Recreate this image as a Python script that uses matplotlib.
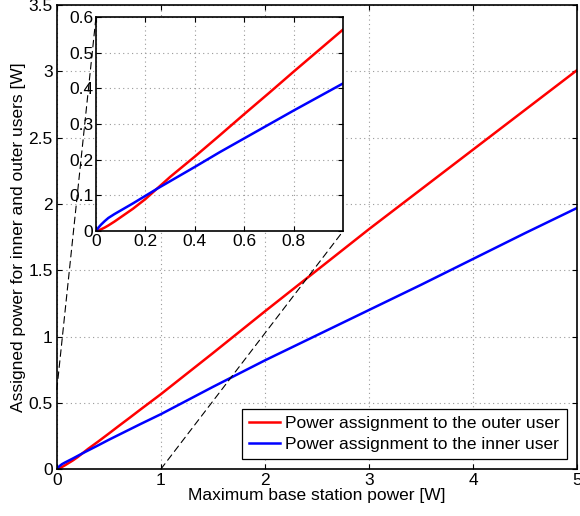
import matplotlib.pyplot as plt
from matplotlib.patches import ConnectionPatch

plt.rcParams['font.family'] = ['Liberation Sans', 'DejaVu Sans']

# values
p_max = [0, 0.01, 0.02, 0.035, 0.05, 0.075, 0.1, 0.125, 0.15, 0.2, 0.25, 0.3, 0.4, 0.5,
         0.6, 0.7, 0.8, 0.9, 1.0, 1.5, 2.0, 2.5, 3.0, 3.5, 4.0, 4.5, 5.0]
p_outer = [0, 0.002, 0.005, 0.01, 0.016, 0.027, 0.039, 0.051, 0.063, 0.09, 0.121, 0.152,
           0.209, 0.268, 0.328, 0.387, 0.447, 0.506, 0.565, 0.875, 1.19, 1.5, 1.81, 2.11,
           2.41, 2.71, 3.01]
p_inner = [0, 0.01, 0.018, 0.028, 0.037, 0.048, 0.058, 0.068, 0.078, 0.099, 0.12, 0.14,
           0.18, 0.221, 0.26, 0.299, 0.338, 0.376, 0.414, 0.62, 0.82, 1.01, 1.2, 1.39,
           1.585, 1.78, 1.97]

fig = plt.figure(figsize=(5.8, 5.16), dpi=100)
ax = fig.add_axes([0.098, 0.091, 0.897, 0.899])

ax.plot(p_max, p_outer, color='red', lw=1.8, label='Power assignment to the outer user')
ax.plot(p_max, p_inner, color='blue', lw=1.8, label='Power assignment to the inner user')
ax.set_xlim(0, 5)
ax.set_ylim(0, 3.5)
ax.set_xticks([0, 1, 2, 3, 4, 5])
ax.set_yticks([0, 0.5, 1, 1.5, 2, 2.5, 3, 3.5])
ax.set_yticklabels(['0', '0.5', '1', '1.5', '2', '2.5', '3', '3.5'])
ax.grid(True, linestyle=(0, (1, 3)), color='#999999', lw=0.8)
ax.tick_params(direction='in', top=True, right=True, labelsize=12.5, pad=3)
for s in ax.spines.values():
    s.set_linewidth(1.2)
ax.set_xlabel('Maximum base station power [W]', fontsize=12.5, labelpad=0)
ax.set_ylabel('Assigned power for inner and outer users [W]', fontsize=12.5, labelpad=2)
leg = ax.legend(loc='lower right', fontsize=12.5, fancybox=False, edgecolor='black',
                framealpha=1, handlelength=1.8, handletextpad=0.3, borderpad=0.38,
                labelspacing=0.35, borderaxespad=0.6)
leg.get_frame().set_linewidth(0.9)

ins = fig.add_axes([0.1655, 0.552, 0.426, 0.415])
ins.plot(p_max, p_outer, color='red', lw=1.8)
ins.plot(p_max, p_inner, color='blue', lw=1.8)
ins.set_xlim(0, 1)
ins.set_ylim(0, 0.6)
ins.set_xticks([0, 0.2, 0.4, 0.6, 0.8])
ins.set_xticklabels(['0', '0.2', '0.4', '0.6', '0.8'])
ins.set_yticks([0, 0.1, 0.2, 0.3, 0.4, 0.5, 0.6])
ins.set_yticklabels(['0', '0.1', '0.2', '0.3', '0.4', '0.5', '0.6'])
ins.grid(True, linestyle=(0, (1, 3)), color='#999999', lw=0.8)
ins.tick_params(direction='in', top=True, right=True, labelsize=12.5, pad=2)
for s in ins.spines.values():
    s.set_linewidth(1.2)

# dashed lines from zoomed region to inset corners
c1 = ConnectionPatch(xyA=(0, 0.6), coordsA='data', axesA=ax,
                     xyB=(0, 1), coordsB='axes fraction', axesB=ins,
                     linestyle=(0, (6, 4)), color='black', lw=0.8)
c2 = ConnectionPatch(xyA=(1, 0), coordsA='data', axesA=ax,
                     xyB=(1, 0), coordsB='axes fraction', axesB=ins,
                     linestyle=(0, (6, 4)), color='black', lw=0.8)
fig.add_artist(c1)
fig.add_artist(c2)

fig.savefig('out.png', dpi=100)
